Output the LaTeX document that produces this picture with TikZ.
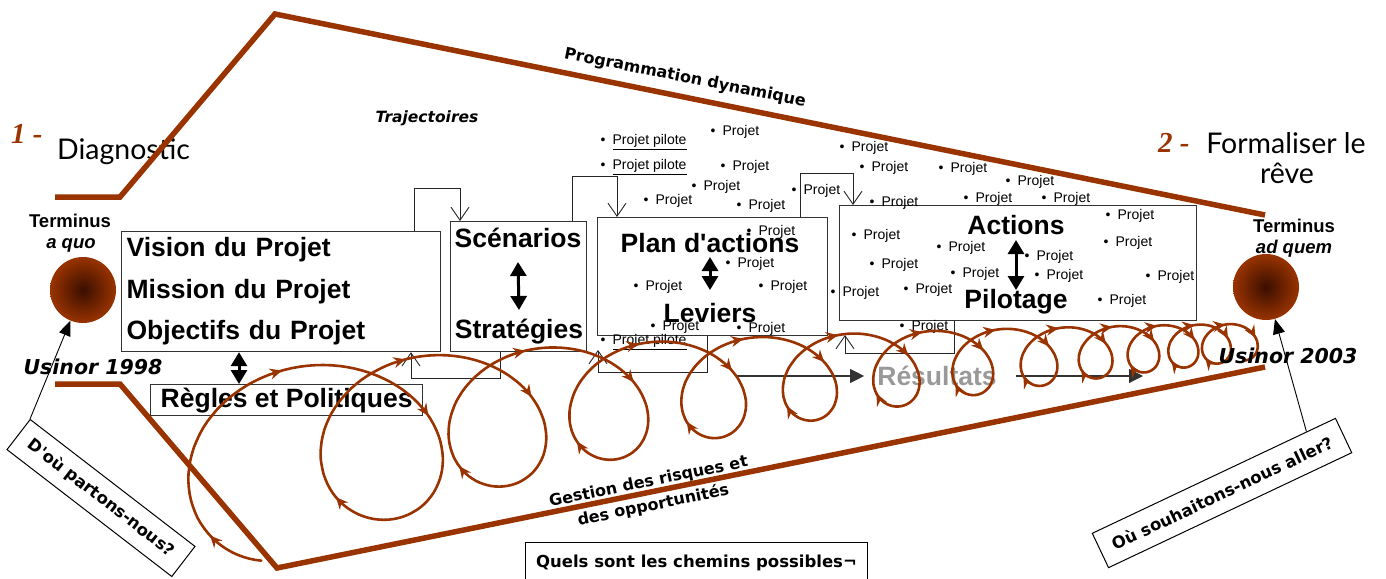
\documentclass[tikz,border=0pt]{standalone}
\usepackage{fontspec}
\setmainfont{Liberation Sans}[Ligatures=TeXOff]
\newfontfamily\verdfont{DejaVu Sans}[Ligatures=TeXOff]
\newfontfamily\gillfont{Lato}
\newfontfamily\timesfont{Liberation Serif}
\usetikzlibrary{arrows.meta,decorations.markings,calc}
\definecolor{Rust}{HTML}{993300}
\definecolor{RustDark}{HTML}{3A0E00}
\definecolor{ResGray}{HTML}{999999}
\newcommand{\bigbf}{\fontsize{26.5}{41.5}\selectfont\bfseries}
\tikzset{
  frame/.style={draw=Rust, line width=5.5pt},
  box/.style={draw=black!80, line width=1.2pt, fill=white, inner sep=0pt, anchor=north west},
  title/.style={font=\bigbf, inner sep=0pt, anchor=base},
  proj/.style={font=\fontsize{14}{16}\selectfont, inner sep=0pt, anchor=west},
  link/.style={draw=black!85, line width=0.9pt, -{Straight Barb[length=13pt,width=18pt]}},
  dbl/.style={line width=3pt, {Triangle[length=14pt,width=16pt]}-{Triangle[length=14pt,width=16pt]}},
  res/.style={draw=black!80, line width=1.2pt, -{Triangle[length=14pt,width=14pt]}},
  pointer/.style={line width=0.9pt, -{Triangle[length=15pt,width=12pt]}},
  qbox/.style={draw, line width=1pt, inner sep=0pt, font=\verdfont\bfseries\fontsize{16.5}{18}\selectfont},
  verdtext/.style={inner sep=0pt, font=\verdfont\bfseries\fontsize{16}{24}\selectfont},
  heading/.style={inner sep=0pt, font=\gillfont\fontsize{28.5}{30}\selectfont},
  num/.style={inner sep=0pt, text=Rust, font=\timesfont\bfseries\itshape\fontsize{29}{30}\selectfont},
  term/.style={inner sep=0pt, anchor=base, font=\fontsize{18.5}{21}\selectfont\bfseries},
  year/.style={inner sep=0pt, anchor=base, font=\verdfont\bfseries\itshape\fontsize{20.5}{22}\selectfont},
  sun/.style={circle, minimum size=66pt, inner sep=0pt, inner color=RustDark, outer color=Rust},
  looptip/.tip={Stealth[length=12pt,width=11pt,inset=4pt]},
  loopline/.style={draw=Rust, line width=2.6pt, line cap=round, line join=round, postaction={decorate},
    decoration={markings,
      mark=at position 0.1 with {\arrow{looptip}},
      mark=at position 0.47 with {\arrow{looptip}},
      mark=at position 0.75 with {\arrow{looptip}}}}
}

\begin{document}
\begin{tikzpicture}[x=1pt,y=-1pt]
\useasboundingbox (0,0) rectangle (1386,578);

\node[num, anchor=base west] (n1) at (11,143) {1 -};
\node[heading, anchor=base west] (diag) at (57,159) {Diagnostic};
\node[num, anchor=base west] (n2) at (1158,152) {2 -};
\node[heading, anchor=base] (form) at (1286,153) {Formaliser le};
\node[heading, anchor=base] (reve) at (1287,183) {rêve};

\draw[frame] (55,197) -- (120,197) -- (275,14) -- (1265,215);
\draw[frame] (55,384) -- (120,384) -- (277,568) -- (1265,367);

\node[verdtext, rotate=-11.3] (prog) at (685,78) {Programmation dynamique};
\node[inner sep=0pt, font=\verdfont\bfseries\itshape\fontsize{15.5}{18}\selectfont] (traj) at (427,118) {Trajectoires};
\node[verdtext, rotate=11.5, align=center] (gest) at (651,494) {Gestion des risques et\\des opportunités};

\node[term] (t1) at (70,227) {Terminus};
\node[term] (t1b) at (71,248) {\itshape a quo};
\node[term] (t2) at (1294,232) {Terminus};
\node[term] (t2b) at (1294,253) {\itshape ad quem};
\node[sun] (aquo) at (83,290) {};
\node[sun] (adquem) at (1266,287) {};
\node[year] (y1) at (93,374) {Usinor 1998};

\node[box, minimum width=319pt, minimum height=120pt, text width=309pt, inner xsep=5pt, align=left, font=\bigbf] (vision) at (121,231) {Vision du Projet\\Mission du Projet\\Objectifs du Projet};
\node[box, minimum width=136pt, minimum height=130pt] (scen) at (450,221) {};
\node[box, minimum width=230pt, minimum height=118pt] (plan) at (597,217) {};
\node[box, minimum width=357pt, minimum height=115pt] (act) at (839,205) {};
\node[box, minimum width=272pt, minimum height=31pt, font=\bigbf] (regles) at (150,384) {Règles et Politiques};

\coordinate (c1) at (414,188); \coordinate (c2) at (460,188);
\draw[link] (vision.north -| c1) -- (c1) -- (c2) -- (scen.north -| c2);
\coordinate (c3) at (572,176); \coordinate (c4) at (617,176);
\draw[link] (scen.north -| c3) -- (c3) -- (c4) -- (plan.north -| c4);
\coordinate (c5) at (800,173); \coordinate (c6) at (853,173);
\draw[link] (plan.north -| c5) -- (c5) -- (c6) -- (act.north -| c6);
\coordinate (c7) at (500,378); \coordinate (c8) at (411,378);
\draw[link] (scen.south -| c7) -- (c7) -- (c8) -- (vision.south -| c8);
\coordinate (c9) at (707,372); \coordinate (c10) at (598,372);
\draw[link] (plan.south -| c9) -- (c9) -- (c10) -- ++(0,-22);
\coordinate (c11) at (954,353); \coordinate (c12) at (845,353);
\draw[link] (act.south -| c11) -- (c11) -- (c12) -- ++(0,-18);

\foreach \py [count=\i] in {142,167,342}
  \node[proj] (pp\i) at (600.5,\py) {\textbullet\hspace{7pt}\underline{Projet pilote}};
\foreach \bx/\by [count=\i] in {713/132, 723/167, 694/187, 646/201, 739/206, 794/191, 749/232,
    728/264, 636/287, 761/287, 653/327, 739/329, 842/148, 862/168, 941/169, 1008/182, 872/203,
    966/199, 1044/199, 1108/216, 854/236, 1106/243, 939/248, 1027/257, 872/265, 953/274,
    1037/276, 1148/277, 833/293, 906/290, 1100/301, 902/327}
  \node[proj] (pj\i) at (\bx-2.5,\by) {\textbullet\hspace{7pt}Projet};

\node[title] (scn) at (518,247) {Scénarios};
\node[title] (strat) at (519,338) {Stratégies};
\node[title] (pa) at (710,252) {Plan d'actions};
\node[title] (lev) at (710,322) {Leviers};
\node[title] (acts) at (1016,234) {Actions};
\node[title] (pil) at (1016,308) {Pilotage};

\coordinate (dv) at (239,0);
\draw[dbl] (vision.south -| dv) -- (regles.north -| dv);
\draw[dbl] ([yshift=-15pt]scn.base) -- ([yshift=28pt]strat.base);
\draw[dbl] ([yshift=-5pt]pa.base) -- ([yshift=32pt]lev.base);
\draw[dbl] ([yshift=-6pt]acts.base) -- ([yshift=18pt]pil.base);

\node[font=\bigbf, text=ResGray, inner sep=0pt] (res) at (937,376) {Résultats};
\coordinate (r0) at (735,376); \coordinate (r1) at (1143,376);
\draw[res, shorten >=13pt] (r0) -- (res.west);
\draw[res, shorten <=19pt] (res.east) -- (r1);

\foreach \k in {0,...,12}
  \draw[loopline] plot[domain=\k-0.5:\k+0.5, samples=90, variable=\u]
    ({320+1038*tanh((\u)/8.8)+(12+84*exp(-0.19*(\u)))*sin(360*(\u))},
     {335+117*exp(-0.2231*(\u))-(12+75*exp(-0.1985*(\u)))*cos(360*(\u))});

\node[year] (y2) at (1288,363) {Usinor 2003};

\node[qbox, minimum width=208pt, minimum height=38pt, rotate=-37.6] (qa) at (101,498) {D'où partons-nous?};
\node[qbox, minimum width=269pt, minimum height=38pt, rotate=25.3] (qb) at (1222,493) {Où souhaitons-nous aller?};
\draw[pointer] (qa.north west) -- (aquo);
\draw[pointer] ($(qb.north east)!0.12!(qb.north west)$) -- (adquem);

\node[qbox, minimum width=342pt, minimum height=40pt, anchor=north west] (paths) at (525,542) {Quels sont les chemins possibles¬};
\end{tikzpicture}
\end{document}
